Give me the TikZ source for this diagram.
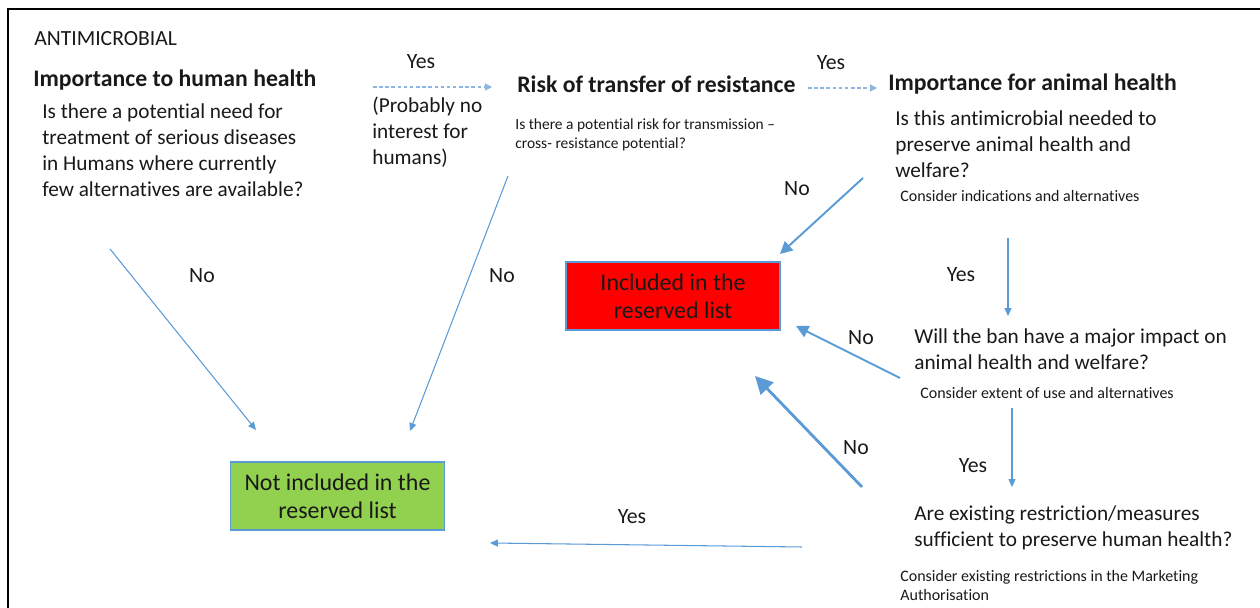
\documentclass[tikz,border=0pt]{standalone}
\usepackage{fontspec}
\setmainfont{Carlito}[Ligatures=NoCommon]
\usetikzlibrary{arrows.meta, positioning}
\definecolor{myblue}{RGB}{91,155,213}
\definecolor{mylightblue}{RGB}{140,182,226}
\definecolor{myred}{RGB}{255,0,0}
\definecolor{mygreen}{RGB}{146,208,80}
\definecolor{mydark}{RGB}{25,25,25}
\tikzset{
  head/.style={font=\bfseries\fontsize{13.5}{16}\selectfont, anchor=west, inner sep=0pt, text=mydark},
  question/.style={font=\fontsize{12.1}{14.7}\selectfont, align=left, anchor=west, inner sep=0pt, text=mydark},
  hint/.style={font=\fontsize{9.1}{10.8}\selectfont, align=left, anchor=west, inner sep=0pt, text=mydark},
  answer/.style={font=\fontsize{12.4}{14}\selectfont, inner sep=0pt, text=mydark},
  listbox/.style={rectangle, draw=myblue, line width=0.8pt, minimum width=4.28cm, minimum height=1.36cm, align=center, font=\fontsize{13.6}{16}\selectfont, text=mydark},
  flow/.style={-{Triangle[length=4.5pt, width=4pt]}, color=myblue, line width=0.6pt},
  midflow/.style={-{Triangle[length=7pt, width=7pt]}, color=myblue, line width=1.1pt},
  boldflow/.style={-{Triangle[length=10pt, width=10pt]}, color=myblue, line width=1.6pt},
  dashflow/.style={-{Triangle[length=4pt, width=4pt]}, color=mylightblue, dash pattern=on 2pt off 1.5pt, line width=0.6pt}
}

\begin{document}
\begin{tikzpicture}
  \useasboundingbox (0,0) rectangle (25.2,12.16);
  % Frame
  \draw[line width=1.6pt] (0.16,0) -- (0.16,11.98) -- (25.2,11.98);
  \node[question, font=\fontsize{12.3}{14}\selectfont] (title) at (0.68,11.38) {ANTIMICROBIAL};

  % Human health
  \node[head] (humanhead) at (0.66,10.56) {Importance to human health};
  \node[question] (human) at (0.84,9.16) {Is there a potential need for\\treatment of serious diseases\\in Humans where currently\\few alternatives are available?};
  \node[question] (probably) at (7.44,9.52) {(Probably no\\interest for\\humans)};

  % Transfer of resistance
  \node[head] (riskhead) at (10.34,10.48) {Risk of transfer of resistance};
  \node[hint, font=\fontsize{8.8}{10.5}\selectfont] (risk) at (10.30,9.46) {Is there a potential risk for transmission --\\cross- resistance potential?};

  % Animal health
  \node[head] (animalhead) at (17.76,10.48) {Importance for animal health};
  \node[question] (animal) at (17.90,9.28) {Is this antimicrobial needed to\\preserve animal health and\\welfare?};
  \node[hint] (animalhint) at (18.00,8.24) {Consider indications and alternatives};
  \node[question] (ban) at (18.28,5.18) {Will the ban have a major impact on\\animal health and welfare?};
  \node[hint] (banhint) at (18.40,4.30) {Consider extent of use and alternatives};
  \node[question] (measures) at (18.28,1.60) {Are existing restriction/measures\\sufficient to preserve human health?};
  \node[hint] (measureshint) at (18.00,0.44) {Consider existing restrictions in the Marketing\\Authorisation};

  % Outcomes
  \node[listbox, fill=myred] (incl) at (13.46,6.24) {Included in the\\reserved list};
  \node[listbox, fill=mygreen] (notincl) at (6.75,2.24) {Not included in the\\reserved list};

  % Connector ends
  \coordinate (h1) at (7.46,10.42);  \coordinate (h2) at (9.84,10.42);
  \coordinate (r1) at (16.16,10.40); \coordinate (r2) at (17.54,10.40);
  \coordinate (n1) at (2.20,7.18);   \coordinate (n2) at (5.12,3.56);
  \coordinate (n3) at (10.16,8.64);  \coordinate (n4) at (8.20,3.54);
  \coordinate (n5) at (17.26,8.60);  \coordinate (n6) at (15.60,7.08);
  \coordinate (y1) at (20.16,7.40);  \coordinate (y2) at (20.16,5.84);
  \coordinate (n7) at (18.00,4.60);  \coordinate (n8) at (15.92,5.64);
  \coordinate (y3) at (20.24,4.00);  \coordinate (y4) at (20.24,2.42);
  \coordinate (n9) at (17.24,2.42);  \coordinate (n10) at (15.10,4.64);
  \coordinate (y5) at (16.04,1.22);  \coordinate (y6) at (9.80,1.30);

  % Connectors
  \draw[dashflow] (h1) -- (h2);
  \draw[dashflow] (r1) -- (r2);
  \draw[flow] (n1) -- (n2);
  \draw[flow] (n3) -- (n4);
  \draw[midflow] (n5) -- (n6);
  \draw[flow] (y1) -- (y2);
  \draw[midflow] (n7) -- (n8);
  \draw[flow] (y3) -- (y4);
  \draw[boldflow] (n9) -- (n10);
  \draw[flow] (y5) -- (y6);

  % Answers
  \node[answer] (yesa) at (8.42,10.92) {Yes};
  \node[answer] (yesb) at (16.62,10.90) {Yes};
  \node[answer] (noa) at (4.04,6.64) {No};
  \node[answer] (nob) at (10.04,6.64) {No};
  \node[answer] (noc) at (15.94,8.38) {No};
  \node[answer] (yesc) at (19.22,6.66) {Yes};
  \node[answer] (nod) at (17.22,5.40) {No};
  \node[answer] (yesd) at (19.46,2.84) {Yes};
  \node[answer] (noe) at (17.12,3.20) {No};
  \node[answer] (yese) at (12.64,1.82) {Yes};
\end{tikzpicture}
\end{document}
